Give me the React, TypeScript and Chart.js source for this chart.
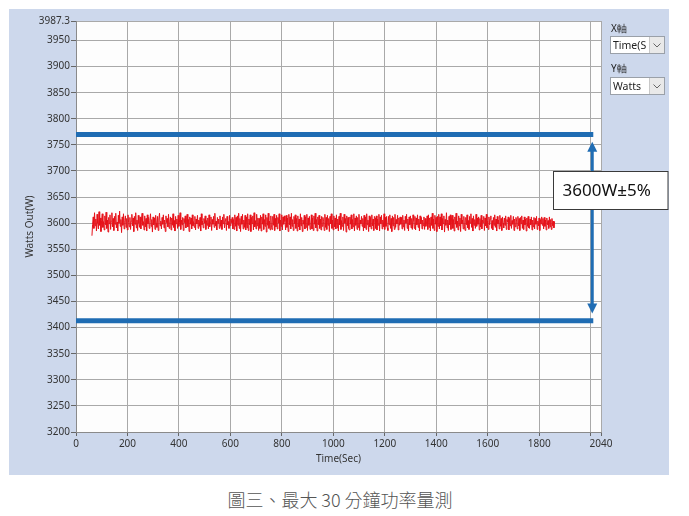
import React, { useEffect, useRef } from "react";
import { Chart, registerables } from "chart.js";
Chart.register(...registerables);

// ---- data ----
const TIME_START = 62; // sec, first sample
const TIME_STEP = 2.5; // sec between samples
const WATTS: number[] = [
  3576, 3598, 3612, 3590, 3620, 3595, 3608, 3585, 3617, 3600, 3589, 3622, 3596, 3610, 3584, 3605, 3618, 3592, 3603, 3587,
  3614, 3597, 3621, 3590, 3606, 3583, 3611, 3599, 3616, 3588, 3604, 3620, 3593, 3609, 3586, 3613, 3598, 3619, 3591, 3602,
  3585, 3615, 3600, 3623, 3594, 3607, 3582, 3612, 3596, 3618, 3589, 3605, 3614, 3592, 3609, 3587, 3616, 3601, 3593, 3611,
  3588, 3604, 3617, 3595, 3610, 3584, 3613, 3598, 3620, 3591, 3606, 3586, 3615, 3600, 3592, 3612, 3589, 3608, 3619, 3596,
  3603, 3587, 3614, 3593, 3609, 3585, 3616, 3599, 3611, 3590, 3605, 3618, 3594, 3607, 3583, 3612, 3597, 3610, 3588, 3615,
  3600, 3592, 3613, 3586, 3608, 3619, 3595, 3604, 3589, 3611, 3598, 3616, 3591, 3606, 3584, 3614, 3601, 3609, 3593, 3617,
  3590, 3603, 3612, 3587, 3610, 3596, 3618, 3592, 3605, 3585, 3613, 3599, 3608, 3590, 3615, 3594, 3602, 3620, 3588, 3606,
  3597, 3611, 3586, 3609, 3601, 3614, 3591, 3604, 3617, 3593, 3607, 3584, 3612, 3598, 3610, 3589, 3616, 3595, 3603, 3592,
  3613, 3587, 3608, 3599, 3615, 3590, 3606, 3594, 3611, 3585, 3618, 3597, 3604, 3591, 3609, 3600, 3614, 3588, 3605, 3596,
  3610, 3589, 3616, 3593, 3602, 3612, 3586, 3607, 3598, 3613, 3592, 3619, 3595, 3604, 3587, 3611, 3600, 3608, 3590, 3614,
  3594, 3606, 3588, 3612, 3599, 3617, 3591, 3605, 3609, 3586, 3613, 3597, 3603, 3590, 3615, 3595, 3608, 3601, 3611, 3589,
  3607, 3588, 3616, 3594, 3611, 3585, 3614, 3596, 3619, 3590, 3609, 3584, 3613, 3598, 3617, 3589, 3606, 3592, 3615, 3587,
  3612, 3591, 3618, 3586, 3608, 3597, 3616, 3584, 3611, 3599, 3614, 3587, 3620, 3593, 3605, 3589, 3617, 3595, 3610, 3586,
  3609, 3590, 3615, 3585, 3612, 3598, 3618, 3588, 3607, 3594, 3616, 3583, 3611, 3596, 3619, 3590, 3604, 3587, 3614, 3592,
  3588, 3613, 3596, 3617, 3586, 3609, 3593, 3615, 3589, 3611, 3600, 3618, 3585, 3606, 3594, 3616, 3587, 3612, 3598, 3614,
  3603, 3587, 3615, 3592, 3610, 3584, 3617, 3597, 3612, 3589, 3619, 3594, 3607, 3586, 3613, 3599, 3616, 3590, 3609, 3585,
  3614, 3593, 3608, 3587, 3618, 3595, 3611, 3584, 3606, 3598, 3615, 3589, 3612, 3592, 3617, 3586, 3610, 3596, 3613, 3588,
  3595, 3616, 3589, 3610, 3586, 3614, 3598, 3619, 3591, 3607, 3585, 3612, 3597, 3615, 3590, 3608, 3587, 3613, 3594, 3611,
  3603, 3586, 3617, 3592, 3611, 3588, 3615, 3596, 3609, 3584, 3613, 3599, 3618, 3590, 3606, 3587, 3614, 3593, 3610, 3589,
  3616, 3591, 3608, 3585, 3613, 3597, 3619, 3588, 3605, 3594, 3612, 3586, 3617, 3600, 3609, 3583, 3614, 3595, 3611, 3590,
  3587, 3612, 3598, 3616, 3589, 3607, 3593, 3618, 3585, 3610, 3596, 3614, 3588, 3611, 3592, 3617, 3586, 3606, 3599, 3613,
  3594, 3609, 3585, 3615, 3591, 3612, 3588, 3618, 3597, 3606, 3584, 3614, 3593, 3611, 3589, 3616, 3595, 3608, 3586, 3613,
  3610, 3590, 3614, 3587, 3608, 3596, 3617, 3585, 3612, 3599, 3615, 3589, 3606, 3593, 3618, 3588, 3611, 3594, 3613, 3591,
  3586, 3613, 3597, 3616, 3590, 3609, 3584, 3614, 3595, 3611, 3588, 3617, 3592, 3607, 3599, 3615, 3587, 3610, 3596, 3612,
  3598, 3611, 3589, 3615, 3593, 3606, 3586, 3613, 3600, 3617, 3590, 3608, 3585, 3612, 3597, 3614, 3591, 3609, 3588, 3616,
  3605, 3590, 3613, 3587, 3610, 3597, 3616, 3592, 3608, 3585, 3614, 3599, 3611, 3589, 3606, 3595, 3612, 3588, 3609, 3594,
  3600, 3614, 3588, 3616, 3592, 3610, 3585, 3612, 3596, 3619, 3590, 3608, 3586, 3615, 3598, 3611, 3584, 3613, 3594, 3617,
  3589, 3612, 3595, 3618, 3587, 3609, 3599, 3614, 3583, 3607, 3596, 3620, 3591, 3606, 3586, 3613, 3597, 3616, 3588, 3610,
  3615, 3590, 3607, 3585, 3612, 3598, 3619, 3592, 3604, 3587, 3614, 3595, 3610, 3584, 3617, 3599, 3606, 3589, 3613, 3593,
  3586, 3611, 3597, 3616, 3591, 3605, 3588, 3613, 3600, 3618, 3592, 3609, 3585, 3614, 3596, 3607, 3590, 3617, 3594, 3610,
  3598, 3612, 3587, 3609, 3593, 3615, 3589, 3606, 3601, 3613, 3586, 3610, 3595, 3617, 3591, 3604, 3588, 3612, 3597, 3608,
  3614, 3590, 3605, 3587, 3611, 3596, 3616, 3592, 3608, 3585, 3613, 3599, 3606, 3589, 3615, 3594, 3609, 3586, 3612, 3600,
  3591, 3610, 3596, 3614, 3588, 3607, 3602, 3612, 3587, 3609, 3595, 3615, 3590, 3605, 3598, 3613, 3586, 3608, 3593, 3611,
  3604, 3589, 3613, 3595, 3609, 3586, 3611, 3599, 3614, 3590, 3606, 3588, 3612, 3597, 3608, 3585, 3610, 3594, 3613, 3591,
  3590, 3608, 3597, 3612, 3587, 3606, 3593, 3611, 3589, 3609, 3598, 3613, 3588, 3604, 3595, 3610, 3586, 3607, 3599, 3612,
  3596, 3609, 3589, 3611, 3594, 3606, 3587, 3610, 3597, 3605, 3590, 3612, 3593, 3607, 3588, 3609, 3595, 3604, 3591, 3603,
];
const X_TICKS = [0, 200, 400, 600, 800, 1000, 1200, 1400, 1600, 1800, 2000, 2040];
const X_HIDDEN_LABELS = [2000];
const Y_TICKS = [3200, 3250, 3300, 3350, 3400, 3450, 3500, 3550, 3600, 3650, 3700, 3750, 3800, 3850, 3900, 3950, 3987.3];
const LIMIT_VALUES = [3770, 3413]; // upper / lower band lines
const LIMIT_TIME = [0, 2010];
const ARROW_TIME = 2006;
const ARROW_VALUES = [3756, 3427];
const BOX_LABEL = "3600W±5%";
const BOX_TIME = 1853;
const BOX_VALUES = [3700, 3628];
const CAPTION = "圖三、最大 30 分鐘功率量測";

const BLUE = "#1f6cb3";
const FONT = '"Noto Sans", "DejaVu Sans", sans-serif';

export default function App() {
  const ref = useRef<HTMLCanvasElement>(null);

  useEffect(() => {
    const series = WATTS.map((w, i) => ({ x: TIME_START + i * TIME_STEP, y: w }));
    const limitSets = LIMIT_VALUES.map((v) => ({
      data: LIMIT_TIME.map((t) => ({ x: t, y: v })),
      borderColor: BLUE,
      borderWidth: 5,
      pointRadius: 0,
      borderCapStyle: "butt" as const,
    }));

    const bgPlugin = {
      id: "plotBg",
      beforeDraw(chart: any) {
        const { ctx, chartArea } = chart;
        ctx.save();
        ctx.fillStyle = "#fdfdfd";
        ctx.fillRect(chartArea.left, chartArea.top, chartArea.right - chartArea.left, chartArea.bottom - chartArea.top);
        ctx.restore();
      },
    };

    const annPlugin = {
      id: "annotations",
      afterDatasetsDraw(chart: any) {
        const { ctx } = chart;
        const xs = chart.scales.x;
        const ys = chart.scales.y;
        const ax = xs.getPixelForValue(ARROW_TIME);
        const yTop = ys.getPixelForValue(ARROW_VALUES[0]);
        const yBot = ys.getPixelForValue(ARROW_VALUES[1]);
        const head = 10;
        const hw = 5;
        ctx.save();
        ctx.strokeStyle = BLUE;
        ctx.fillStyle = BLUE;
        ctx.lineWidth = 3;
        ctx.beginPath();
        ctx.moveTo(ax, yTop + head - 1);
        ctx.lineTo(ax, yBot - head + 1);
        ctx.stroke();
        ctx.beginPath();
        ctx.moveTo(ax, yTop);
        ctx.lineTo(ax - hw, yTop + head);
        ctx.lineTo(ax + hw, yTop + head);
        ctx.closePath();
        ctx.fill();
        ctx.beginPath();
        ctx.moveTo(ax, yBot);
        ctx.lineTo(ax - hw, yBot - head);
        ctx.lineTo(ax + hw, yBot - head);
        ctx.closePath();
        ctx.fill();

        // label box
        const bx = Math.round(xs.getPixelForValue(BOX_TIME)) + 0.5;
        const by1 = Math.round(ys.getPixelForValue(BOX_VALUES[0])) + 0.5;
        const by2 = Math.round(ys.getPixelForValue(BOX_VALUES[1])) + 0.5;
        const bw = chart.width - 1 - bx;
        ctx.fillStyle = "#ffffff";
        ctx.fillRect(bx, by1, bw, by2 - by1);
        ctx.strokeStyle = "#3a3a3a";
        ctx.lineWidth = 1;
        ctx.strokeRect(bx, by1, bw, by2 - by1);
        ctx.fillStyle = "#111";
        ctx.font = `17px ${FONT}`;
        ctx.textBaseline = "middle";
        ctx.textAlign = "left";
        ctx.fillText(BOX_LABEL, bx + 9, (by1 + by2) / 2 + 1);
        ctx.restore();
      },
    };

    const chart = new Chart(ref.current!, {
      type: "line",
      data: {
        datasets: [
          {
            data: series,
            borderColor: "#e6121a",
            borderWidth: 1,
            pointRadius: 0,
          },
          ...limitSets,
        ] as any,
      },
      options: {
        animation: false,
        responsive: true,
        maintainAspectRatio: false,
        parsing: false,
        layout: { padding: { top: 12, right: 68, left: 0, bottom: 10 } },
        plugins: { legend: { display: false }, tooltip: { enabled: false } },
        scales: {
          x: {
            type: "linear",
            min: 0,
            max: 2040,
            afterBuildTicks: (s: any) => {
              s.ticks = X_TICKS.map((v) => ({ value: v }));
            },
            afterFit: (s: any) => {
              s.height = 33;
            },
            ticks: {
              autoSkip: false,
              maxRotation: 0,
              padding: 2,
              color: "#333",
              font: { family: FONT, size: 10 },
              callback: (v: any) => (X_HIDDEN_LABELS.includes(Number(v)) ? "" : String(v)),
            },
            grid: { color: "#a9a9a9", tickColor: "#666", tickLength: 4, lineWidth: 1 },
            border: { color: "#8a8a8a" },
            title: {
              display: true,
              text: "Time(Sec)",
              color: "#333",
              font: { family: FONT, size: 10 },
              padding: { top: 1, bottom: 0 },
            },
          },
          y: {
            type: "linear",
            min: 3200,
            max: 3987.3,
            afterBuildTicks: (s: any) => {
              s.ticks = Y_TICKS.map((v) => ({ value: v }));
            },
            afterFit: (s: any) => {
              s.width = 67;
            },
            ticks: {
              autoSkip: false,
              padding: 1,
              color: "#333",
              font: { family: FONT, size: 10 },
              callback: (v: any) => String(v),
            },
            grid: { color: "#a9a9a9", tickColor: "#666", tickLength: 5, lineWidth: 1 },
            border: { color: "#8a8a8a" },
            title: {
              display: true,
              text: "Watts Out(W)",
              color: "#333",
              font: { family: FONT, size: 10 },
              padding: { top: 15, bottom: 0 },
            },
          },
        },
      } as any,
      plugins: [bgPlugin, annPlugin],
    });
    return () => chart.destroy();
  }, []);

  const chevron = (
    <svg width="8" height="5" viewBox="0 0 8 5" style={{ display: "block" }}>
      <polyline points="0.5,0.5 4,4 7.5,0.5" fill="none" stroke="#666" strokeWidth="1" />
    </svg>
  );

  const dropdown = (top: number, text: string) => (
    <div
      style={{
        position: "absolute",
        left: 610,
        top,
        width: 53,
        height: 16,
        background: "#fff",
        border: "1px solid #9aa0a8",
        fontSize: 10.5,
        color: "#222",
        fontFamily: FONT,
        lineHeight: "16px",
      }}
    >
      <span style={{ position: "absolute", left: 2, top: 0, whiteSpace: "nowrap", overflow: "hidden", width: 33 }}>{text}</span>
      <div
        style={{
          position: "absolute",
          right: 0,
          top: 0,
          width: 14,
          height: 16,
          background: "#e9e9e9",
          borderLeft: "1px solid #c8c8c8",
          display: "flex",
          alignItems: "center",
          justifyContent: "center",
        }}
      >
        {chevron}
      </div>
    </div>
  );

  return (
    <div style={{ position: "absolute", left: 0, top: 0, width: 689, height: 516, background: "#fff", fontFamily: FONT }}>
      <div style={{ position: "absolute", left: 9, top: 9, width: 660, height: 466, background: "#cdd8ec" }} />
      <div style={{ position: "absolute", left: 9, top: 9, width: 660, height: 466 }}>
        <canvas ref={ref} />
      </div>
      <div style={{ position: "absolute", left: 611, top: 21, fontSize: 10, color: "#222", lineHeight: "14px" }}>X軸</div>
      {dropdown(36, "Time(Sec)")}
      <div style={{ position: "absolute", left: 611, top: 61, fontSize: 10, color: "#222", lineHeight: "14px" }}>Y軸</div>
      {dropdown(77, "Watts")}
      <div
        style={{
          position: "absolute",
          left: 0,
          width: 680,
          top: 487,
          textAlign: "center",
          fontSize: 18,
          color: "#555",
          fontFamily: '"Noto Sans CJK TC", "Noto Sans", sans-serif',
          fontWeight: 300,
          lineHeight: "24px",
        }}
      >
        {CAPTION}
      </div>
    </div>
  );
}
